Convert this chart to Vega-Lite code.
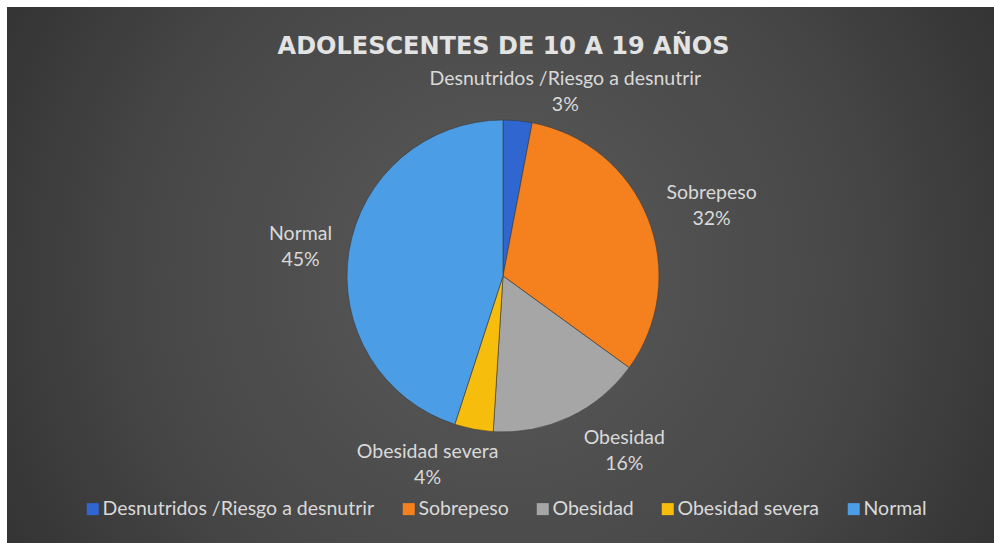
{
  "$schema": "https://vega.github.io/schema/vega-lite/v6.json",
  "width": 987,
  "height": 536,
  "padding": {"left": 7, "top": 7, "right": 0, "bottom": 0},
  "autosize": {"type": "none"},
  "background": "white",
  "title": {
    "text": "ADOLESCENTES DE 10 A 19 AÑOS",
    "font": "DejaVu Sans",
    "fontSize": 24,
    "fontWeight": "bold",
    "color": "#e3e3e3",
    "anchor": "middle",
    "baseline": "alphabetic",
    "offset": -71,
    "dx": 3
  },
  "layer": [
    {
      "data": {"values": [{}]},
      "mark": {
        "type": "rect",
        "fill": {
          "gradient": "radial",
          "x1": 0.5, "y1": 0.5, "r1": 0,
          "x2": 0.5, "y2": 0.5, "r2": 0.72,
          "stops": [
            {"offset": 0, "color": "#5a5a5a"},
            {"offset": 0.5, "color": "#474747"},
            {"offset": 1, "color": "#262626"}
          ]
        }
      },
      "encoding": {}
    },
    {
      "data": {"name": "d"},
      "mark": {"type": "arc", "radius": 156, "xOffset": 2.5, "yOffset": 1, "stroke": "#3a3a3a", "strokeWidth": 0.6},
      "encoding": {
        "theta": {"field": "pct", "type": "quantitative", "stack": true},
        "order": {"field": "idx", "type": "quantitative"},
        "color": {
          "field": "categoria",
          "type": "nominal",
          "sort": null,
          "scale": {
            "domain": ["Desnutridos /Riesgo a desnutrir", "Sobrepeso", "Obesidad", "Obesidad severa", "Normal"],
            "range": ["#2f66d0", "#f5801e", "#a6a6a6", "#f7bd0c", "#4b9de6"]
          },
          "legend": {
            "orient": "none",
            "legendX": 76,
            "legendY": 492,
            "direction": "horizontal",
            "title": null,
            "symbolType": "square",
            "symbolSize": 144,
            "symbolStrokeWidth": 0,
            "labelFont": "Lato",
            "labelFontSize": 19.5,
            "labelColor": "#d9d9d9",
            "labelLimit": 500,
            "labelOffset": 0,
            "columnPadding": 24,
            "padding": 0
          }
        }
      }
    },
    {
      "data": {"name": "d"},
      "mark": {
        "type": "text",
        "radius": 205,
        "xOffset": 2.5,
        "yOffset": 1,
        "font": "Lato",
        "fontSize": 19.5,
        "color": "#d9d9d9",
        "align": "center",
        "baseline": "middle",
        "lineBreak": "\n",
        "lineHeight": 26,
        "dx": {"expr": "datum.idx == 1 ? 43 : datum.idx == 2 ? 18 : datum.idx == 3 ? 34 : datum.idx == 4 ? -37 : 0"},
        "dy": {"expr": "datum.idx == 1 ? 7 : datum.idx == 2 ? -8 : datum.idx == 3 ? -23 : datum.idx == 4 ? -25 : -10"}
      },
      "encoding": {
        "theta": {"field": "pct", "type": "quantitative", "stack": true},
        "order": {"field": "idx", "type": "quantitative"},
        "text": {"field": "etiqueta", "type": "nominal"}
      }
    }
  ],
  "datasets": {
    "d": [
      {"categoria": "Desnutridos /Riesgo a desnutrir", "pct": 3, "idx": 1, "etiqueta": "Desnutridos /Riesgo a desnutrir\n3%"},
      {"categoria": "Sobrepeso", "pct": 32, "idx": 2, "etiqueta": "Sobrepeso\n32%"},
      {"categoria": "Obesidad", "pct": 16, "idx": 3, "etiqueta": "Obesidad\n16%"},
      {"categoria": "Obesidad severa", "pct": 4, "idx": 4, "etiqueta": "Obesidad severa\n4%"},
      {"categoria": "Normal", "pct": 45, "idx": 5, "etiqueta": "Normal\n45%"}
    ]
  },
  "config": {
    "view": {"stroke": null}
  }
}
